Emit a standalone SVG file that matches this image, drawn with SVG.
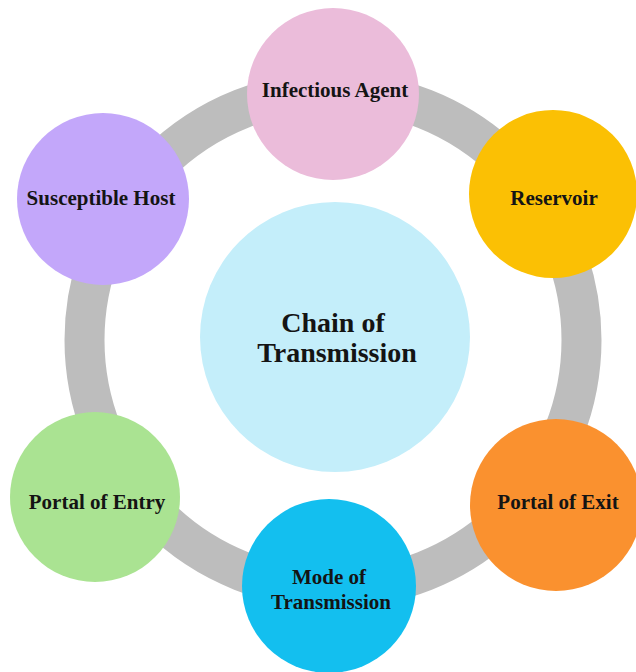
<svg xmlns="http://www.w3.org/2000/svg" width="636" height="672" viewBox="0 0 636 672">
  <style>
    .lbl { font-family: "Liberation Serif", "Times New Roman", serif; font-weight: bold; font-size: 21px; fill: #141414; text-anchor: middle; }
    .big { font-size: 28px; }
  </style>
  <rect x="0" y="0" width="636" height="672" fill="#ffffff"/>
  <g id="connectors">
    <circle cx="333" cy="340" r="248.5" fill="none" stroke="#bdbdbd" stroke-width="40"/>
  </g>
  <g id="center">
    <circle cx="335" cy="337" r="135" fill="#c4eefa"/>
    <text class="lbl big" x="333" y="332">Chain of</text>
    <text class="lbl big" x="337" y="362">Transmission</text>
  </g>
  <g id="infectious-agent">
    <circle cx="333" cy="94" r="86" fill="#ebbcda"/>
    <text class="lbl" x="335" y="97">Infectious Agent</text>
  </g>
  <g id="reservoir">
    <circle cx="553" cy="194" r="84" fill="#fbc004"/>
    <text class="lbl" x="554" y="205">Reservoir</text>
  </g>
  <g id="portal-of-exit">
    <circle cx="556" cy="505" r="86" fill="#fa912f"/>
    <text class="lbl" x="558" y="509">Portal of Exit</text>
  </g>
  <g id="mode-of-transmission">
    <circle cx="329" cy="586" r="87" fill="#13bfef"/>
    <text class="lbl" x="329" y="584">Mode of</text>
    <text class="lbl" x="331" y="609">Transmission</text>
  </g>
  <g id="portal-of-entry">
    <circle cx="95" cy="497" r="85" fill="#aae392"/>
    <text class="lbl" x="97" y="509">Portal of Entry</text>
  </g>
  <g id="susceptible-host">
    <circle cx="103" cy="199" r="86" fill="#c3a7fa"/>
    <text class="lbl" x="101" y="205">Susceptible Host</text>
  </g>
</svg>
